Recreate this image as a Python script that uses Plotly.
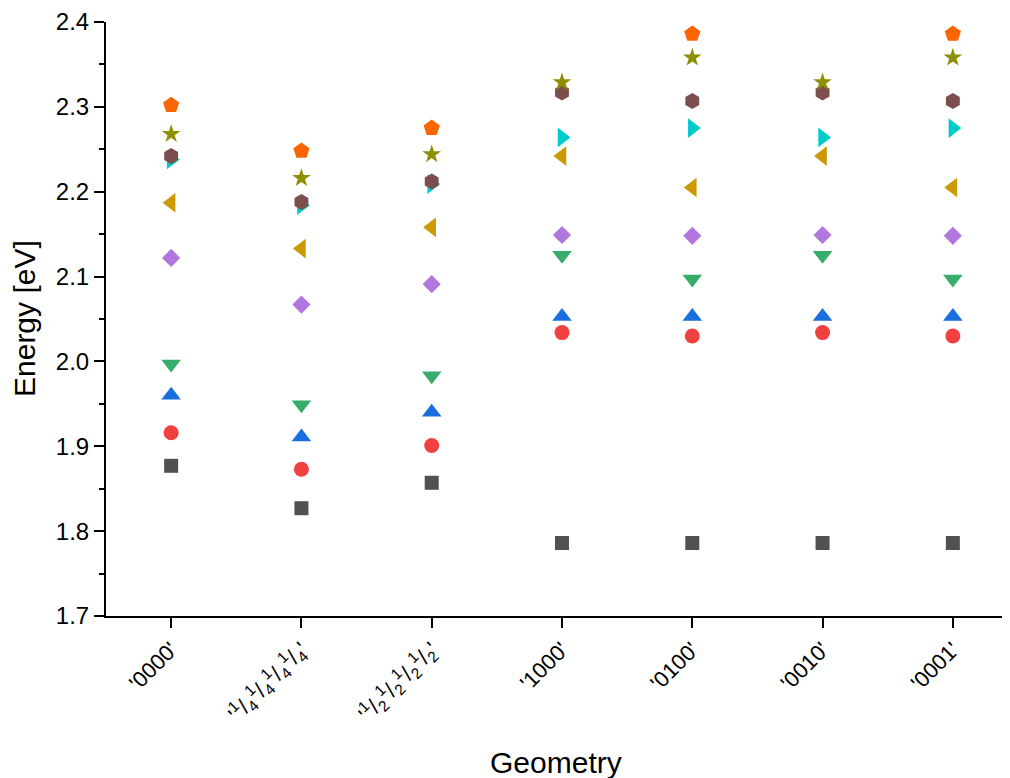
import plotly.graph_objects as go

categories = ["'0000'",
              "'<sup>1</sup>/<sub>4</sub><sup>1</sup>/<sub>4</sub><sup>1</sup>/<sub>4</sub><sup>1</sup>/<sub>4</sub>'",
              "'<sup>1</sup>/<sub>2</sub><sup>1</sup>/<sub>2</sub><sup>1</sup>/<sub>2</sub><sup>1</sup>/<sub>2</sub>'",
              "'1000'", "'0100'", "'0010'", "'0001'"]

s_square = [1.877, 1.827, 1.857, 1.786, 1.786, 1.786, 1.786]
s_circle = [1.916, 1.873, 1.901, 2.034, 2.030, 2.034, 2.030]
s_tri_up = [1.960, 1.911, 1.940, 2.053, 2.053, 2.053, 2.053]
s_tri_down = [1.997, 1.949, 1.983, 2.125, 2.097, 2.125, 2.097]
s_diamond = [2.122, 2.067, 2.091, 2.149, 2.148, 2.149, 2.148]
s_tri_left = [2.187, 2.133, 2.158, 2.242, 2.205, 2.242, 2.205]
s_tri_right = [2.238, 2.184, 2.209, 2.264, 2.275, 2.264, 2.275]
s_hexagon = [2.242, 2.188, 2.212, 2.317, 2.307, 2.317, 2.307]
s_star = [2.268, 2.216, 2.244, 2.329, 2.358, 2.329, 2.358]
s_pentagon = [2.302, 2.248, 2.275, None, 2.386, None, 2.386]

series = [
    (s_square, "square", "#515151", 14),
    (s_circle, "circle", "#F14040", 15),
    (s_tri_up, "triangle-up", "#1A6FDF", 17),
    (s_tri_down, "triangle-down", "#37AD6B", 17),
    (s_diamond, "diamond", "#B177DE", 14),
    (s_tri_left, "triangle-left", "#CC9900", 17),
    (s_tri_right, "triangle-right", "#00CBCC", 17),
    (s_hexagon, "hexagon", "#7D4E4E", 16),
    (s_star, "star", "#8E8E00", 14),
    (s_pentagon, "pentagon", "#FB6501", 17),
]

fig = go.Figure()
for vals, sym, col, sz in series:
    fig.add_trace(go.Scatter(
        x=list(range(len(categories))), y=vals, mode="markers",
        marker=dict(symbol=sym, color=col, size=sz, line=dict(width=0)),
        showlegend=False))

font_family = "Arial, Liberation Sans, sans-serif"
fig.update_layout(
    width=1010, height=778,
    margin=dict(l=98, r=0, t=14, b=170),
    plot_bgcolor="white", paper_bgcolor="white",
    font=dict(family=font_family, color="black", size=24),
    xaxis=dict(
        range=[-0.5, 6.5], tickmode="array",
        tickvals=list(range(len(categories))), ticktext=categories,
        tickangle=-45, showline=True, linewidth=2, linecolor="black",
        ticks="outside", ticklen=10, tickwidth=2, tickcolor="black",
        showgrid=False, zeroline=False, tickfont=dict(size=22)),
    yaxis=dict(
        range=[1.7, 2.4], dtick=0.1, tick0=1.7, tickformat=".1f",
        showline=True, linewidth=2, linecolor="black",
        ticks="outside", ticklen=10, tickwidth=2, tickcolor="black",
        minor=dict(dtick=0.05, ticks="outside", ticklen=5, tickwidth=2, tickcolor="black"),
        showgrid=False, zeroline=False, tickfont=dict(size=24)),
    annotations=[
        dict(text="Energy [eV]", xref="paper", yref="paper", x=0, y=0.5,
             xanchor="center", yanchor="middle", xshift=-82, textangle=-90,
             showarrow=False, font=dict(size=30)),
        dict(text="Geometry", xref="paper", yref="paper", x=0.5, y=0,
             xanchor="center", yanchor="middle", yshift=-146, xshift=-6,
             showarrow=False, font=dict(size=30)),
    ],
)

fig.write_html("out.html")
